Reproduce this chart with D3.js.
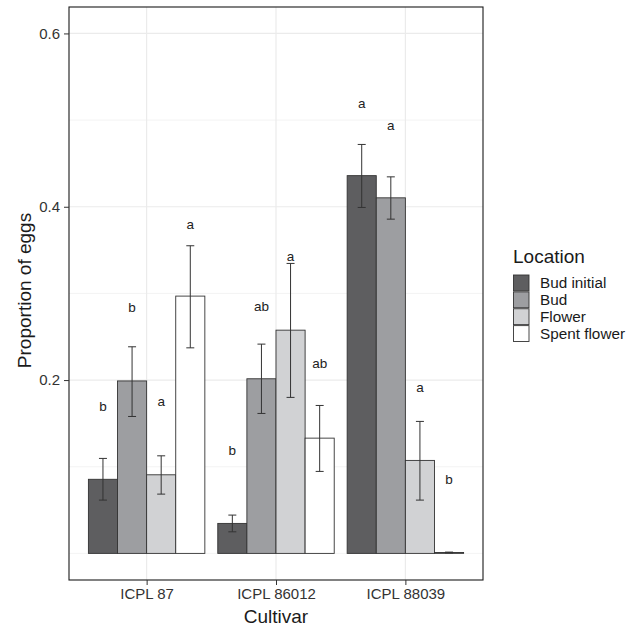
<!DOCTYPE html>
<html><head><meta charset="utf-8">
<script src="https://cdn.jsdelivr.net/npm/d3@7"></script>
<style>body{margin:0;background:#fff;} svg{display:block;font-family:"Liberation Sans",Arial,sans-serif;}</style>
</head><body>
<svg id="chart" width="637" height="626"></svg>
<script>
const cultivars = ["ICPL 87", "ICPL 86012", "ICPL 88039"];
const locations = ["Bud initial", "Bud", "Flower", "Spent flower"];
const colors = ["#5e5e60", "#9d9ea1", "#d1d2d4", "#ffffff"];
// means per cultivar, in location order
const means = [
  [0.0855, 0.1990, 0.0907, 0.2969],
  [0.0346, 0.2015, 0.2576, 0.1330],
  [0.4359, 0.4103, 0.1073, 0.0010]
];
const lower = [
  [0.0615, 0.1580, 0.0684, 0.2372],
  [0.0249, 0.1615, 0.1800, 0.0946],
  [0.3992, 0.3857, 0.0615, 0.0005]
];
const upper = [
  [0.1096, 0.2384, 0.1126, 0.3550],
  [0.0442, 0.2415, 0.3346, 0.1707],
  [0.4719, 0.4345, 0.1523, 0.0015]
];
const letters = [
  ["b", "b", "a", "a"],
  ["b", "ab", "a", "ab"],
  ["a", "a", "a", "b"]
];
const letterY = [
  [0.170, 0.284, 0.175, 0.380],
  [0.119, 0.285, 0.343, 0.219],
  [0.519, 0.494, 0.192, 0.085]
];
const yTicks = [0.2, 0.4, 0.6];
const yMinor = [0.0, 0.1, 0.3, 0.5];

const svg = d3.select("#chart");
const P = {l: 69, t: 7, r: 483, b: 580};

const step = (P.r - P.l) / 3.2;
const xPos = d3.scalePoint().domain(cultivars).range([P.l + 0.6 * step, P.r - 0.6 * step]);
const groupW = 0.9 * step;
const xInner = d3.scaleBand().domain(locations).range([-groupW / 2, groupW / 2]);
const y = d3.scaleLinear().domain([-0.0307, 0.6305]).range([P.b, P.t]);

const g = svg.append("g");
// grid
g.selectAll("line.minor").data(yMinor).join("line")
  .attr("x1", P.l).attr("x2", P.r).attr("y1", d => y(d)).attr("y2", d => y(d))
  .attr("stroke", "#ebebeb").attr("stroke-width", 0.6);
g.selectAll("line.major").data(yTicks).join("line")
  .attr("x1", P.l).attr("x2", P.r).attr("y1", d => y(d)).attr("y2", d => y(d))
  .attr("stroke", "#ebebeb").attr("stroke-width", 1.2);
g.selectAll("line.vx").data(cultivars).join("line")
  .attr("x1", d => xPos(d)).attr("x2", d => xPos(d)).attr("y1", P.t).attr("y2", P.b)
  .attr("stroke", "#ebebeb").attr("stroke-width", 1.2);

const data = [];
cultivars.forEach((c, i) => locations.forEach((l, j) => data.push({
  c, l, j, m: means[i][j], lo: lower[i][j], hi: upper[i][j], lab: letters[i][j], ly: letterY[i][j]
})));

// bars
g.selectAll("rect.bar").data(data).join("rect")
  .attr("x", d => xPos(d.c) + xInner(d.l))
  .attr("width", xInner.bandwidth())
  .attr("y", d => y(d.m))
  .attr("height", d => y(0) - y(d.m))
  .attr("fill", d => colors[d.j])
  .attr("stroke", "#333").attr("stroke-width", 0.9);

// error bars
const cap = 4;
const eb = g.selectAll("g.eb").data(data).join("g")
  .attr("transform", d => `translate(${xPos(d.c) + xInner(d.l) + xInner.bandwidth() / 2},0)`);
eb.append("line").attr("x1", 0).attr("x2", 0).attr("y1", d => y(d.lo)).attr("y2", d => y(d.hi))
  .attr("stroke", "#333").attr("stroke-width", 1);
eb.append("line").attr("x1", -cap).attr("x2", cap).attr("y1", d => y(d.hi)).attr("y2", d => y(d.hi))
  .attr("stroke", "#333").attr("stroke-width", 1);
eb.append("line").attr("x1", -cap).attr("x2", cap).attr("y1", d => y(d.lo)).attr("y2", d => y(d.lo))
  .attr("stroke", "#333").attr("stroke-width", 1);

// letters
g.selectAll("text.lab").data(data).join("text")
  .attr("x", d => xPos(d.c) + xInner(d.l) + xInner.bandwidth() / 2)
  .attr("y", d => y(d.ly))
  .attr("dy", "0.35em")
  .attr("text-anchor", "middle")
  .attr("font-size", 13.5).attr("fill", "#222")
  .text(d => d.lab);

// panel border
svg.append("rect").attr("x", P.l).attr("y", P.t).attr("width", P.r - P.l).attr("height", P.b - P.t)
  .attr("fill", "none").attr("stroke", "#1a1a1a").attr("stroke-width", 1.1);

// axes
const yAxis = d3.axisLeft(y).tickValues(yTicks).tickFormat(d3.format(".1f")).tickSize(5).tickPadding(4);
const ya = svg.append("g").attr("transform", `translate(${P.l},0)`).call(yAxis);
ya.select(".domain").remove();
ya.selectAll("line").attr("stroke", "#333");
ya.selectAll("text").attr("font-size", 15).attr("fill", "#333").attr("font-family", "Liberation Sans, Arial, sans-serif");

const xAxis = d3.axisBottom(xPos).tickSize(5).tickPadding(3);
const xa = svg.append("g").attr("transform", `translate(0,${P.b})`).call(xAxis);
xa.select(".domain").remove();
xa.selectAll("line").attr("stroke", "#333");
xa.selectAll("text").attr("font-size", 15).attr("fill", "#333").attr("font-family", "Liberation Sans, Arial, sans-serif");

// axis titles
svg.append("text").attr("x", (P.l + P.r) / 2).attr("y", 623).attr("text-anchor", "middle")
  .attr("font-size", 19).attr("fill", "#1a1a1a").text("Cultivar");
svg.append("text").attr("transform", `translate(31,${(P.t + P.b) / 2 - 3}) rotate(-90)`).attr("text-anchor", "middle")
  .attr("font-size", 19).attr("fill", "#1a1a1a").text("Proportion of eggs");

// legend
const lg = svg.append("g").attr("transform", "translate(513,0)");
lg.append("text").attr("x", 0).attr("y", 263).attr("font-size", 19).attr("fill", "#1a1a1a").text("Location");
const ly = d3.scaleBand().domain(locations).range([274.5, 342]);
const items = lg.selectAll("g.it").data(locations).join("g")
  .attr("transform", d => `translate(0,${ly(d)})`);
items.append("rect").attr("x", 0.5).attr("y", 0.5).attr("width", 15.5).attr("height", ly.bandwidth() - 1)
  .attr("fill", (d, i) => colors[i]).attr("stroke", "#333").attr("stroke-width", 0.9);
items.append("text").attr("x", 27).attr("y", ly.bandwidth() / 2).attr("dy", "0.36em")
  .attr("font-size", 15.3).attr("fill", "#1a1a1a").text(d => d);
</script>
</body></html>
